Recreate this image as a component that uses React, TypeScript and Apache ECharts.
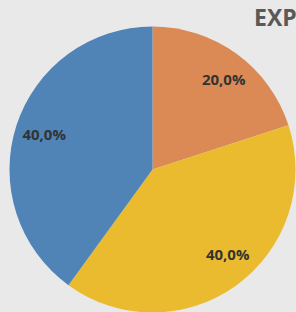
import React, { useEffect, useRef } from "react";
import * as echarts from "echarts";

const categories = ["Category 1", "Category 2", "Category 3"];
const values = [20, 40, 40];
const colors = ["#dc8a55", "#ebbb2f", "#5083b6"];
const labelOffsets = [[3, 3], [7, -9], [2, 0]];
const titleText = "EXPENSES";

const FONT = "'Open Sans', sans-serif";

export default function App() {
  const ref = useRef<HTMLDivElement>(null);
  useEffect(() => {
    if (!ref.current) return;
    const chart = echarts.init(ref.current, null, { renderer: "svg" });
    const data = categories.map((name, i) => ({
      name,
      value: values[i],
      itemStyle: { color: colors[i] },
    }));
    const fmt = (p: any) => p.percent.toFixed(1).replace(".", ",") + "%";
    chart.setOption({
      animation: false,
      backgroundColor: "#e9e9e9",
      title: {
        text: titleText,
        left: 249,
        top: 0,
        textStyle: { fontFamily: FONT, fontSize: 23, fontWeight: "bold", color: "#595959" },
      },
      series: [
        {
          type: "pie",
          center: [152.5, 169.5],
          radius: 143,
          startAngle: 90,
          clockwise: true,
          silent: true,
          label: { show: false },
          labelLine: { show: false },
          data,
        },
        {
          type: "pie",
          center: [152.5, 169.5],
          radius: [83, 143],
          startAngle: 90,
          clockwise: true,
          silent: true,
          itemStyle: { color: "transparent" },
          label: {
            show: true,
            position: "inside",
            formatter: fmt,
            fontFamily: FONT,
            fontSize: 15,
            fontWeight: "bold",
            color: "#333333",
          },
          labelLine: { show: false },
          data: categories.map((name, i) => ({
            name,
            value: values[i],
            itemStyle: { color: "transparent" },
            label: { offset: labelOffsets[i] },
          })),
        },
      ],
    });
    return () => chart.dispose();
  }, []);
  return (
    <div
      ref={ref}
      style={{ position: "fixed", left: 0, top: 0, width: 296, height: 312 }}
    />
  );
}
